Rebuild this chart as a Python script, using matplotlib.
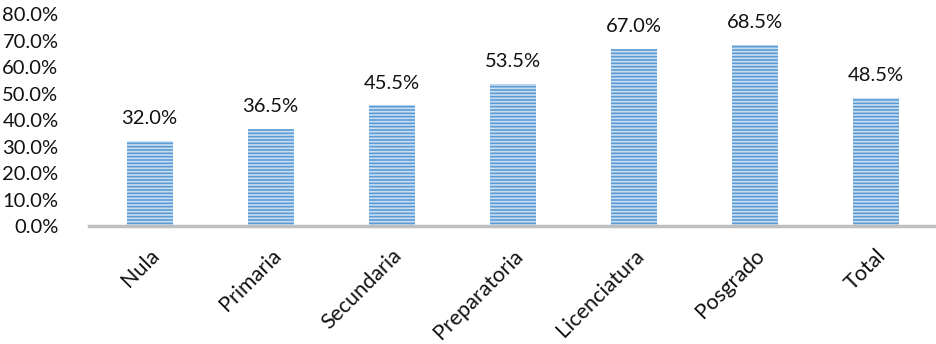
import matplotlib.pyplot as plt
from matplotlib.ticker import PercentFormatter

plt.rcParams['font.family'] = ['Lato', 'DejaVu Sans']
plt.rcParams['hatch.linewidth'] = 1.2

# escolaridad y porcentaje
categorias = ['Nula', 'Primaria', 'Secundaria', 'Preparatoria',
              'Licenciatura', 'Posgrado', 'Total']
valores = [32.0, 36.5, 45.5, 53.5, 67.0, 68.5, 48.5]

fig = plt.figure(figsize=(9.37, 3.44), dpi=100)
ax = fig.add_axes([0.095, 0.343, 0.904, 0.616])

barras = ax.bar(range(len(categorias)), valores, width=0.38,
                color='#5b9bd5', edgecolor='#c9def2', hatch='-----',
                linewidth=0)

for b, v in zip(barras, valores):
    ax.annotate(f'{v:.1f}%', (b.get_x() + b.get_width() / 2, v),
                xytext=(0, 10), textcoords='offset points',
                ha='center', va='bottom', fontsize=14.5, color='#111111')

ax.set_ylim(0, 80)
ax.set_xlim(-0.5, len(categorias) - 0.5)
ax.set_yticks(range(0, 81, 10))
ax.yaxis.set_major_formatter(PercentFormatter(decimals=1))
ax.set_xticks(range(len(categorias)))
ax.set_xticklabels(categorias, rotation=45, ha='right',
                   rotation_mode='anchor', fontsize=15.5)

for s in ['top', 'right', 'left']:
    ax.spines[s].set_visible(False)
ax.spines['bottom'].set_color('#bfbfbf')
ax.spines['bottom'].set_linewidth(2.5)
ax.tick_params(axis='both', length=0, colors='#111111')
ax.tick_params(axis='y', labelsize=14.5, pad=22)
ax.tick_params(axis='x', pad=14)

plt.savefig('out.png', dpi=100)
